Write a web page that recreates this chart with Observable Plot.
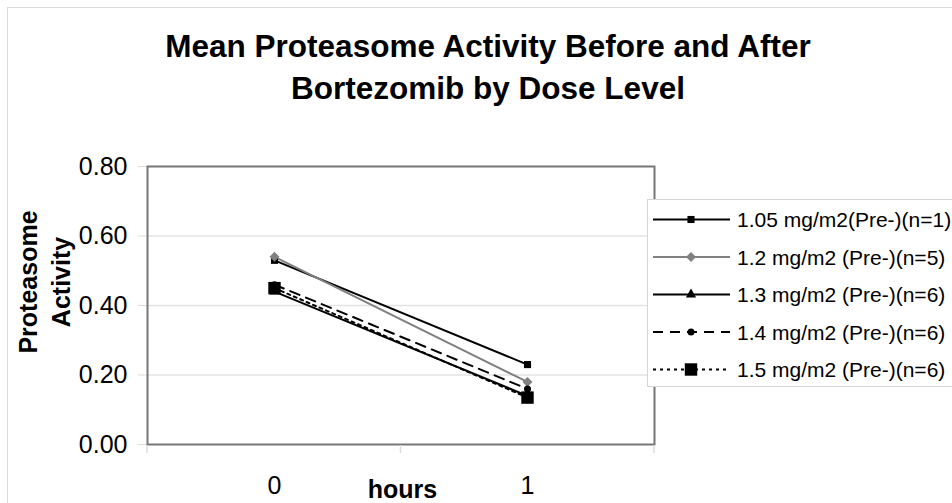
<!DOCTYPE html>
<html>
<head>
<meta charset="utf-8">
<script src="https://cdn.jsdelivr.net/npm/d3@7"></script>
<script src="https://cdn.jsdelivr.net/npm/@observablehq/plot@0.6"></script>
<style>
  html, body { margin: 0; padding: 0; background: #fff; }
  #chart svg { display: block; }
</style>
</head>
<body>
<div id="chart"></div>
<script>
// ---- data ----
const hours = ["0", "1"];
const seriesNames = [
  "1.05 mg/m2(Pre-)(n=1)",
  "1.2 mg/m2 (Pre-)(n=5)",
  "1.3 mg/m2 (Pre-)(n=6)",
  "1.4 mg/m2 (Pre-)(n=6)",
  "1.5 mg/m2 (Pre-)(n=6)"
];
const dose105 = [0.53, 0.23];
const dose12  = [0.54, 0.18];
const dose13  = [0.44, 0.14];
const dose14  = [0.46, 0.16];
const dose15  = [0.45, 0.135];
const yTicks = [0, 0.2, 0.4, 0.6, 0.8];
const titleLines = ["Mean Proteasome Activity Before and After", "Bortezomib by Dose Level"];
const yTitleLines = ["Proteasome", "Activity"];
const xTitle = "hours";

// ---- styles per series ----
const seriesValues = [dose105, dose12, dose13, dose14, dose15];
const styles = [
  {color: "#000", dash: null,   symbol: "square",   r: 4},
  {color: "#808080", dash: null, symbol: "diamond2", r: 4.5},
  {color: "#000", dash: null,   symbol: "triangle", r: 3.8},
  {color: "#000", dash: "10,7", symbol: "circle",   r: 3.5},
  {color: "#000", dash: "3,4",  symbol: "square",   r: 7}
];

const rows = [];
seriesNames.forEach((s, i) => hours.forEach((h, j) => rows.push({series: s, hour: h, value: seriesValues[i][j]})));

const font = "'Liberation Sans', Arial, sans-serif";

const marks = [
  Plot.gridY([0.2, 0.4, 0.6], {stroke: "#e3e3e3", strokeOpacity: 1, strokeWidth: 1.5}),
  Plot.axisY({ticks: yTicks, tickFormat: d3.format(".2f"), fontSize: 25, tickSize: 9, tickPadding: 11,
              stroke: "#dddddd", fill: "#000", label: null}),
  Plot.axisX({tickSize: 0, tickPadding: 32, fontSize: 25, fill: "#000", label: null}),
  Plot.frame({stroke: "#777", strokeWidth: 2})
];
seriesNames.forEach((s, i) => {
  const st = styles[i];
  const data = rows.filter(d => d.series === s);
  marks.push(Plot.line(data, {x: "hour", y: "value", stroke: st.color, strokeWidth: 2,
                              strokeDasharray: st.dash ?? undefined}));
});
seriesNames.forEach((s, i) => {
  const st = styles[i];
  const data = rows.filter(d => d.series === s);
  marks.push(Plot.dot(data, {x: "hour", y: "value", symbol: () => st.symbol, r: st.r,
                             fill: st.color, stroke: "none"}));
});

const plot = Plot.plot({
  width: 952,
  height: 503,
  marginLeft: 147,
  marginRight: 298,
  marginTop: 166,
  marginBottom: 59,
  x: {type: "point", domain: hours, padding: 0.5},
  y: {domain: [0, 0.8]},
  symbol: {type: "identity"},
  style: {fontFamily: font, background: "#fff", overflow: "hidden"},
  marks
});

const svg = d3.select(plot);

// outer chart-area border
svg.insert("rect", ":first-child")
  .attr("x", 7.5).attr("y", 7.5).attr("width", 1200).attr("height", 1200)
  .attr("fill", "none").attr("stroke", "#dcdcdc");

// category boundary ticks below the x axis
const xs = plot.scale("x");
const [x0, x1] = xs.range;
const yS = plot.scale("y");
const yBottom = yS.apply(0);
[x0, (x0 + x1) / 2, x1].forEach(x => {
  svg.append("line").attr("x1", x).attr("x2", x).attr("y1", yBottom + 1).attr("y2", yBottom + 9)
    .attr("stroke", "#dddddd").attr("stroke-width", 1.5);
});

// title
const title = svg.append("text").attr("text-anchor", "middle")
  .attr("font-family", font).attr("font-weight", "bold").attr("font-size", 31.5).attr("fill", "#000");
titleLines.forEach((t, i) => title.append("tspan").attr("x", 488).attr("y", 57 + i * 42).text(t));

// y axis title (two lines, rotated)
const yMid = 282;
yTitleLines.forEach((t, i) => {
  svg.append("text").attr("text-anchor", "middle")
    .attr("transform", `translate(${37 + i * 33},${yMid}) rotate(-90)`)
    .attr("font-family", font).attr("font-weight", "bold").attr("font-size", 25).attr("fill", "#000")
    .text(t);
});

// x axis title
svg.append("text").attr("text-anchor", "middle").attr("x", (x0 + x1) / 2 + 2).attr("y", 498)
  .attr("font-family", font).attr("font-weight", "bold").attr("font-size", 25).attr("fill", "#000")
  .text(xTitle);

// legend
const lg = svg.append("g");
lg.append("rect").attr("x", 647.5).attr("y", 199.5).attr("width", 400).attr("height", 187)
  .attr("fill", "#fff").attr("stroke", "#d6d6d6");
seriesNames.forEach((s, i) => {
  const st = styles[i];
  const cy = 219.5 + i * 37.5;
  lg.append("line").attr("x1", 653).attr("x2", 730).attr("y1", cy).attr("y2", cy)
    .attr("stroke", st.color).attr("stroke-width", 2)
    .attr("stroke-dasharray", st.dash);
  const symType = {square: d3.symbolSquare, diamond2: d3.symbolDiamond2, triangle: d3.symbolTriangle, circle: d3.symbolCircle}[st.symbol];
  lg.append("path").attr("transform", `translate(691,${cy})`)
    .attr("d", d3.symbol(symType, st.r * st.r * Math.PI)())
    .attr("fill", st.color);
  lg.append("text").attr("x", 737).attr("y", cy).attr("dy", "0.36em").attr("text-anchor", "start")
    .attr("font-family", font).attr("font-size", 21).attr("fill", "#000").text(s);
});

document.getElementById("chart").appendChild(plot);
</script>
</body>
</html>
